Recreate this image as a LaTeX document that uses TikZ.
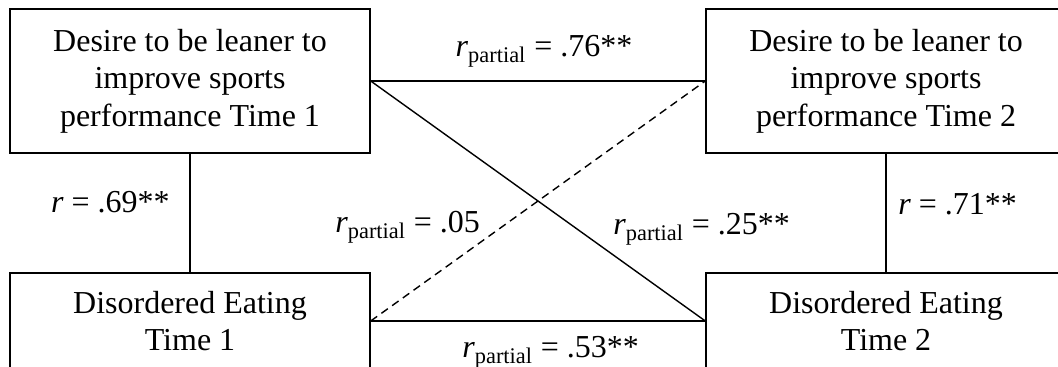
\documentclass[tikz,border=0pt]{standalone}
\usepackage{fontspec}
\setmainfont{Liberation Serif}
\usetikzlibrary{positioning,calc}

\begin{document}
\begin{tikzpicture}[
  varbox/.style={draw, line width=0.8pt, rectangle, minimum width=72mm, align=center,
                 font=\fontsize{18.2}{21.3}\selectfont},
  rlab/.style={inner sep=0pt, font=\fontsize{18.2}{21.3}\selectfont},
  link/.style={line width=0.8pt},
  weak/.style={line width=0.8pt, dash pattern=on 4.5pt off 3pt},
]
\useasboundingbox (0,0) rectangle (21.16,-7.34);
\node[varbox, minimum height=28.8mm] (dl1) at (3.8,-1.62) {Desire to be leaner to\\improve sports\\performance Time 1};
\node[varbox, minimum height=28.8mm] (dl2) at (17.72,-1.62) {Desire to be leaner to\\improve sports\\performance Time 2};
\node[varbox, minimum height=19.2mm] (de1) at (3.8,-6.42) {Disordered Eating\\Time 1};
\node[varbox, minimum height=19.2mm] (de2) at (17.72,-6.42) {Disordered Eating\\Time 2};
\draw[link] (dl1.south) -- (de1.north);
\draw[link] (dl2.south) -- (de2.north);
\draw[link] (dl1.east) -- (dl2.west);
\draw[link] (de1.east) -- (de2.west);
\draw[link] (dl1.east) -- (de2.west);
\draw[weak] (de1.east) -- (dl2.west);
\node[rlab, anchor=base] (r76) at (10.88,-1.14) {\textit{r}\textsubscript{partial} = .76**};
\node[rlab, anchor=base east] (r69) at (3.4,-4.26) {\textit{r} = .69**};
\node[rlab, anchor=base west] (r71) at (17.96,-4.30) {\textit{r} = .71**};
\node[rlab, anchor=base west] (r05) at (6.7,-4.66) {\textit{r}\textsubscript{partial} = .05};
\node[rlab, anchor=base west] (r25) at (12.26,-4.70) {\textit{r}\textsubscript{partial} = .25**};
\node[rlab, anchor=base west] (r53) at (9.24,-7.16) {\textit{r}\textsubscript{partial} = .53**};
\end{tikzpicture}
\end{document}
